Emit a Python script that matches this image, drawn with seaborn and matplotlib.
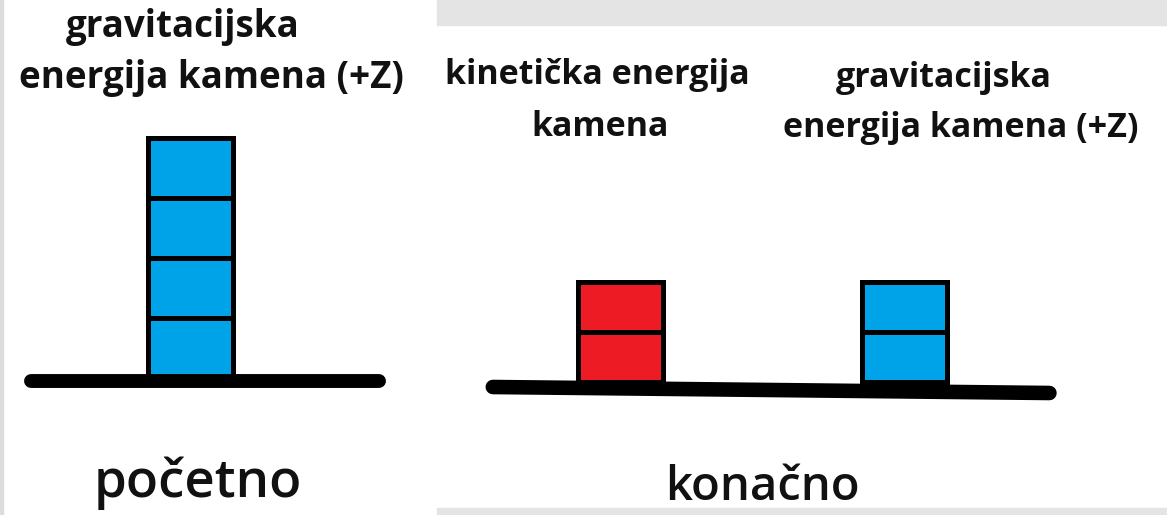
import matplotlib
matplotlib.use("Agg")
import matplotlib.pyplot as plt
import matplotlib.patches as mpatches
import pandas as pd
import seaborn as sns

# energy units
initial_labels = ["gravitacijska energija kamena (+Z)"]
initial_units = [4]
final_labels = ["kinetička energija kamena", "gravitacijska energija kamena (+Z)"]
final_units = [2, 2]
final_colors = ["#ed1c24", "#00a2e8"]

sns.set_theme(style="white")
plt.rcParams["font.family"] = ["Open Sans", "DejaVu Sans"]

W, H = 1167, 515
fig = plt.figure(figsize=(W / 100, H / 100), dpi=100)
fig.patch.set_facecolor("white")

# grey frame bits from the screenshot
fig.patches.append(mpatches.Rectangle((437 / W, 1 - 25 / H), 1 - 437 / W, 25 / H,
                                      transform=fig.transFigure, color="#e4e4e4", zorder=0))
fig.patches.append(mpatches.Rectangle((437 / W, 0), 1 - 437 / W, 7 / H,
                                      transform=fig.transFigure, color="#e4e4e4", zorder=0))
fig.patches.append(mpatches.Rectangle((0, 0), 3 / W, 1,
                                      transform=fig.transFigure, color="#dcdcdc", zorder=0))


def stack_bars(ax, labels, units, colors, width):
    df = pd.DataFrame({"label": labels, "units": units})
    sns.barplot(data=df, x="label", y="units", hue="label", palette=colors,
                width=width, edgecolor="black", linewidth=3.6, saturation=1,
                legend=False, ax=ax, zorder=2)
    # one box per energy unit
    for patch, n in zip(ax.patches, units):
        x0, x1 = patch.get_x(), patch.get_x() + patch.get_width()
        for k in range(1, n):
            ax.plot([x0, x1], [k, k], color="black", lw=3.6, zorder=3)
    ax.set_axis_off()


# left panel: initial state
axl = fig.add_axes([0, 0, 440 / W, 1])
axl.patch.set_alpha(0)
stack_bars(axl, initial_labels, initial_units, ["#00a2e8"], 0.8)
axl.set_xlim(-1.793, 2.348)
axl.set_ylim(-2.28, 6.3)
axl.plot([-1.50, 1.77], [-0.05, -0.05], color="black", lw=10,
         solid_capstyle="round", zorder=4)

# right panel: final state
axr = fig.add_axes([440 / W, 0, 727 / W, 1])
axr.patch.set_alpha(0)
stack_bars(axr, final_labels, final_units, final_colors, 0.3)
axr.set_xlim(-0.636, 1.924)
axr.set_ylim(-2.66, 7.64)
axr.plot([-0.45, 1.51], [-0.1, -0.22], color="black", lw=10.5,
         solid_capstyle="round", zorder=4)

bold = dict(fontsize=26.5, fontweight="bold", ha="center", va="center", color="#111111")
fig.text(183 / W, 1 - 27 / H, "gravitacijska", **bold)
fig.text(211 / W, 1 - 78 / H, "energija kamena (+Z)", **bold)

small = dict(bold, fontsize=24.5)
fig.text(597 / W, 1 - 75 / H, "kinetička energija", **small)
fig.text(600 / W, 1 - 127 / H, "kamena", **small)
fig.text(944 / W, 1 - 78 / H, "gravitacijska", **small)
fig.text(961 / W, 1 - 128 / H, "energija kamena (+Z)", **small)

fig.text(198 / W, 1 - 483 / H, "početno", fontsize=38, fontweight="semibold",
         ha="center", va="center", color="#111111")
fig.text(762 / W, 1 - 488 / H, "konačno", fontsize=34, fontweight="semibold",
         ha="center", va="center", color="#111111")

fig.savefig("out.png", dpi=100)
